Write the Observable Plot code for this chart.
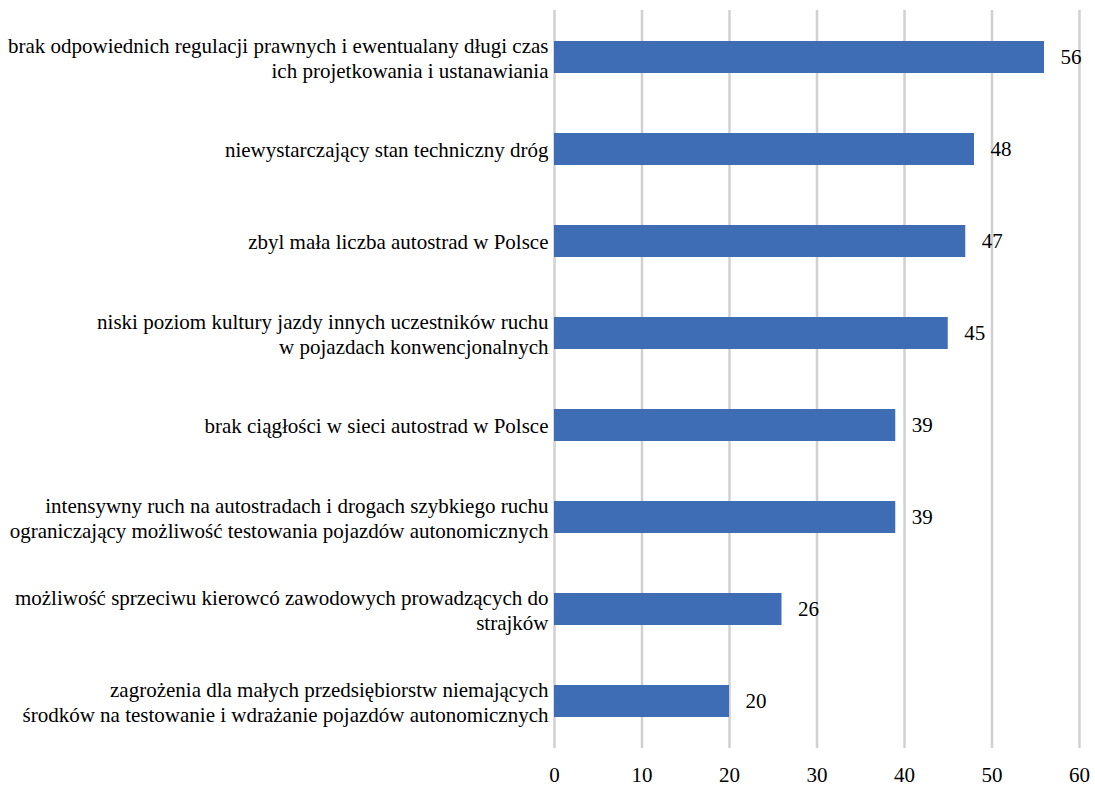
<!DOCTYPE html>
<html>
<head>
<meta charset="utf-8">
<script src="https://cdn.jsdelivr.net/npm/d3@7"></script>
<script src="https://cdn.jsdelivr.net/npm/@observablehq/plot@0.6"></script>
<style>
  html, body { margin: 0; padding: 0; background: #fff; }
  #chart svg { display: block; }
  #chart svg text { font-family: "Liberation Serif", "Times New Roman", Times, serif !important; }
</style>
</head>
<body>
<div id="chart"></div>
<script>
const categories = [
  "brak odpowiednich regulacji prawnych i ewentualany długi czas\nich projetkowania i ustanawiania",
  "niewystarczający stan techniczny dróg",
  "zbyl mała liczba autostrad w Polsce",
  "niski poziom kultury jazdy innych uczestników ruchu\nw pojazdach konwencjonalnych",
  "brak ciągłości w sieci autostrad w Polsce",
  "intensywny ruch na autostradach i drogach szybkiego ruchu\nograniczający możliwość testowania pojazdów autonomicznych",
  "możliwość sprzeciwu kierowcó zawodowych prowadzących do\nstrajków",
  "zagrożenia dla małych przedsiębiorstw niemających\nśrodków na testowanie i wdrażanie pojazdów autonomicznych"
];
const values = [56, 48, 47, 45, 39, 39, 26, 20];
const xTicks = [0, 10, 20, 30, 40, 50, 60];

const data = categories.map((c, i) => ({category: c, value: values[i]}));
const serif = "Liberation Serif";

const chart = Plot.plot({
  width: 1095,
  height: 789,
  marginLeft: 554,
  marginRight: 16,
  marginTop: 10,
  marginBottom: 41,
  style: {fontFamily: serif, background: "#fff", color: "#000"},
  x: {domain: [0, 60], ticks: xTicks, label: null},
  y: {domain: categories, paddingInner: 0.65, paddingOuter: 0.325, label: null},
  marks: [
    Plot.ruleX(xTicks, {stroke: "#d0d0d0", strokeWidth: 2.5, strokeOpacity: 1}),
    Plot.barX(data, {y: "category", x: "value", fill: "#3e6db5"}),
    Plot.text(data, {y: "category", x: "value", text: d => String(d.value), dx: 16, textAnchor: "start", fontSize: 21, fontFamily: serif, fill: "#000"}),
    Plot.axisX({ticks: xTicks, tickSize: 0, tickPadding: 19, fontSize: 21, fontFamily: serif, label: null}),
    Plot.axisY({tickSize: 0, tickPadding: 6, fontSize: 21, fontFamily: serif, lineHeight: 1.18, label: null, textAnchor: "end"})
  ]
});
document.getElementById("chart").appendChild(chart);
</script>
</body>
</html>
